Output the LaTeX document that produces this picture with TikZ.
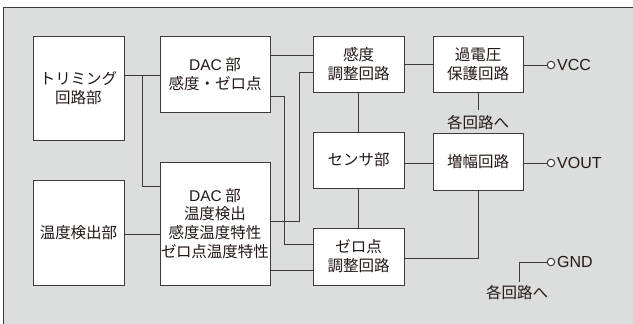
\documentclass[tikz,border=0pt]{standalone}
\usepackage{fontspec}
\setmainfont{Noto Sans CJK JP}
\newfontfamily\lat{Liberation Sans}
\newfontfamily\jpprop[RawFeature=+palt]{Noto Sans CJK JP}
\begin{document}
\begin{tikzpicture}[x=1pt,y=-1pt,
  blk/.style={draw=linec,fill=white,line width=1pt,inner sep=0pt,align=center,font=\fontsize{15.5}{18.7}\selectfont},
  wire/.style={draw=linec,line width=1pt},
  term/.style={circle,draw=linec,fill=white,line width=1pt,minimum size=7.5pt,inner sep=0pt},
  lbl/.style={font=\fontsize{15.5}{18.7}\selectfont,inner sep=0pt,text=textc}]
\definecolor{bgc}{HTML}{DCDDDD}
\definecolor{linec}{HTML}{3E3A39}
\definecolor{textc}{HTML}{231815}
\useasboundingbox (0,0) rectangle (633,324);
\fill[white] (0,0) rectangle (633,324);
\fill[bgc] (3,7) rectangle (633,324);
\draw[linec,line width=1pt] (3,324) -- (3,7) -- (633,7);
% blocks
\node[blk,text=textc,minimum width=91pt,minimum height=104pt] (trim) at (78.5,88) {トリミング\\回路部};
\node[blk,text=textc,minimum width=110pt,minimum height=76pt] (dac1) at (215,74) {{\lat DAC} 部\\感度・ゼロ点};
\node[blk,text=textc,minimum width=91pt,minimum height=105pt] (temp) at (78.5,232.5) {温度検出部};
\node[blk,text=textc,minimum width=110pt,minimum height=123pt] (dac2) at (215,223.5) {{\lat DAC} 部\\温度検出\\感度温度特性\\{\jpprop ゼロ点温度特性}};
\node[blk,text=textc,minimum width=91pt,minimum height=56pt] (sadj) at (358.5,64) {感度\\調整回路};
\node[blk,text=textc,minimum width=90pt,minimum height=56pt] (ovp) at (478,64) {過電圧\\保護回路};
\node[blk,text=textc,minimum width=91pt,minimum height=56pt] (sens) at (358.5,160) {センサ部};
\node[blk,text=textc,minimum width=90pt,minimum height=57pt] (amp) at (478,162) {増幅回路};
\node[blk,text=textc,minimum width=91pt,minimum height=57pt] (zadj) at (358.5,256.5) {ゼロ点\\調整回路};
% terminals
\node[term] (tvcc) at (551,65) {};
\node[term] (tvout) at (551,163) {};
\node[term] (tgnd) at (551,262) {};
\node[lbl,anchor=west,font=\lat\fontsize{16}{18}\selectfont] (lvcc) at (557,65) {VCC};
\node[lbl,anchor=west,font=\lat\fontsize{16}{18}\selectfont] (lvout) at (557,163) {VOUT};
\node[lbl,anchor=west,font=\lat\fontsize{16}{18}\selectfont] (lgnd) at (557,262) {GND};
\node[lbl] (each1) at (478,123) {各回路へ};
\node[lbl] (each2) at (517,293) {各回路へ};
\coordinate (g1) at (519,282);
% wires
\draw[wire] (trim.east |- 0,75) -- (dac1.west |- 0,75);
\draw[wire] (142,75) |- (dac2.west |- 0,186);
\draw[wire] (temp.east |- 0,234) -- (dac2.west |- 0,234);
\draw[wire] (dac1.east |- 0,55) -- (sadj.west |- 0,55);
\draw[wire] (dac2.east |- 0,221) -| (299,72) -- (sadj.west |- 0,72);
\draw[wire] (dac1.east |- 0,96) -| (284,244) -- (zadj.west |- 0,244);
\draw[wire] (dac2.east |- 0,270) -- (zadj.west |- 0,270);
\draw[wire] (sadj.east) -- (ovp.west |- sadj.east);
\draw[wire] (sadj.south) -- (sens.north);
\draw[wire] (sens.south) -- (zadj.north);
\draw[wire] (sens.east |- 0,163) -- (amp.west |- 0,163);
\draw[wire] (amp.south) |- (zadj.east |- 0,258);
\draw[wire] (ovp.south) -- (ovp.south |- 0,110);
\draw[wire] (ovp.east |- tvcc) -- (tvcc);
\draw[wire] (amp.east |- tvout) -- (tvout);
\draw[wire] (g1) |- (tgnd);
\end{tikzpicture}
\end{document}
